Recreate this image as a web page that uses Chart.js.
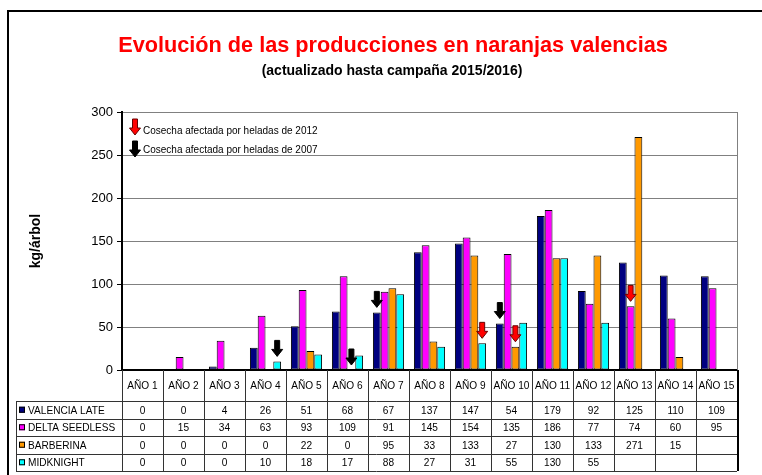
<!DOCTYPE html>
<html>
<head>
<meta charset="utf-8">
<script src="https://cdn.jsdelivr.net/npm/chart.js@4"></script>
<style>
  html, body { margin: 0; padding: 0; background: #fff; }
  #wrap { width: 762px; height: 475px; position: relative; }
</style>
</head>
<body>
<div id="wrap"><canvas id="chart" width="762" height="475"></canvas></div>
<script>
// datos
const categories = ['AÑO 1', 'AÑO 2', 'AÑO 3', 'AÑO 4', 'AÑO 5', 'AÑO 6', 'AÑO 7', 'AÑO 8',
  'AÑO 9', 'AÑO 10', 'AÑO 11', 'AÑO 12', 'AÑO 13', 'AÑO 14', 'AÑO 15'];
const valenciaLate = [0, 0, 4, 26, 51, 68, 67, 137, 147, 54, 179, 92, 125, 110, 109];
const deltaSeedless = [0, 15, 34, 63, 93, 109, 91, 145, 154, 135, 186, 77, 74, 60, 95];
const barberina = [0, 0, 0, 0, 22, 0, 95, 33, 133, 27, 130, 133, 271, 15, null];
const midknight = [0, 0, 0, 10, 18, 17, 88, 27, 31, 55, 130, 55, null, null, null];
const seriesNames = ['VALENCIA LATE', 'DELTA SEEDLESS', 'BARBERINA', 'MIDKNIGHT'];
const seriesColors = ['#000080', '#FF00FF', '#FF9900', '#00FFFF'];
const yTicks = [0, 50, 100, 150, 200, 250, 300];
// flechas de heladas: categoria, serie, año
const frostCats = [3, 5, 6, 8, 9, 9, 12];
const frostSeries = [3, 2, 0, 3, 0, 2, 1];
const frostYears = [2007, 2007, 2007, 2012, 2007, 2012, 2012];

const FONT = '"Liberation Sans", Arial, sans-serif';
const allSeries = [valenciaLate, deltaSeedless, barberina, midknight];

function drawArrow(ctx, x, tipY, color) {
  // flecha hacia abajo, 16px de alto
  const h = 16, shaftW = 5, headW = 11, headH = 7;
  ctx.save();
  ctx.beginPath();
  ctx.moveTo(x - shaftW / 2, tipY - h);
  ctx.lineTo(x + shaftW / 2, tipY - h);
  ctx.lineTo(x + shaftW / 2, tipY - headH);
  ctx.lineTo(x + headW / 2, tipY - headH);
  ctx.lineTo(x, tipY);
  ctx.lineTo(x - headW / 2, tipY - headH);
  ctx.lineTo(x - shaftW / 2, tipY - headH);
  ctx.closePath();
  ctx.fillStyle = color;
  ctx.fill();
  ctx.lineWidth = 1;
  ctx.strokeStyle = color === '#000' ? '#000' : '#600';
  ctx.stroke();
  ctx.restore();
}

// texto algo estrecho, como en la tabla original
function narrowText(ctx, text, x, y, align) {
  const sx = 0.92;
  ctx.save();
  ctx.translate(x, y);
  ctx.scale(sx, 1);
  ctx.textAlign = align;
  ctx.fillText(text, 0, 0);
  ctx.restore();
}

const extras = {
  id: 'extras',
  afterDraw(chart) {
    const ctx = chart.ctx;
    const area = chart.chartArea;
    const x = chart.scales.x;
    const n = categories.length;
    const colW = (area.right - area.left) / n;

    ctx.save();
    // marco exterior
    ctx.strokeStyle = '#000';
    ctx.lineWidth = 2;
    ctx.beginPath();
    ctx.moveTo(8, 475);
    ctx.lineTo(8, 11);
    ctx.lineTo(762, 11);
    ctx.stroke();

    // titulos
    ctx.textAlign = 'center';
    ctx.textBaseline = 'alphabetic';
    ctx.fillStyle = '#FF0000';
    ctx.font = 'bold 21.7px ' + FONT;
    ctx.fillText('Evolución de las producciones en naranjas valencias', 393, 52);
    ctx.fillStyle = '#000';
    ctx.font = 'bold 14px ' + FONT;
    ctx.fillText('(actualizado hasta campaña 2015/2016)', 392, 75);

    // titulo eje y
    ctx.save();
    ctx.translate(36, 241);
    ctx.rotate(-Math.PI / 2);
    ctx.font = 'bold 14px ' + FONT;
    ctx.textBaseline = 'middle';
    ctx.fillText('kg/árbol', 0, 0);
    ctx.restore();

    // borde derecho del area
    ctx.strokeStyle = '#808080';
    ctx.lineWidth = 1;
    ctx.beginPath();
    ctx.moveTo(area.right + 0.5, area.top);
    ctx.lineTo(area.right + 0.5, area.bottom);
    ctx.stroke();

    // flechas
    for (let i = 0; i < frostCats.length; i++) {
      const bar = chart.getDatasetMeta(frostSeries[i]).data[frostCats[i]];
      drawArrow(ctx, bar.x, bar.y - 5, frostYears[i] === 2012 ? '#FF0000' : '#000');
    }
    // leyenda de flechas
    drawArrow(ctx, 135, 135, '#FF0000');
    drawArrow(ctx, 135, 157, '#000');
    ctx.fillStyle = '#000';
    ctx.font = '10px ' + FONT;
    ctx.textAlign = 'left';
    ctx.fillText('Cosecha afectada por heladas de 2012', 143, 134);
    ctx.fillText('Cosecha afectada por heladas de 2007', 143, 153);

    // tabla de datos
    const headTop = area.bottom, headBottom = 401, rowH = 17.5;
    const tableLeft = 16;
    const tableBottom = headBottom + rowH * allSeries.length;
    ctx.strokeStyle = '#333';
    ctx.lineWidth = 1;
    ctx.beginPath();
    for (let i = 0; i <= n; i++) {
      const bx = Math.round(area.left + i * colW) + 0.5;
      ctx.moveTo(bx, headTop);
      ctx.lineTo(bx, tableBottom);
    }
    ctx.moveTo(tableLeft + 0.5, headBottom);
    ctx.lineTo(tableLeft + 0.5, tableBottom);
    for (let r = 0; r <= allSeries.length; r++) {
      const yy = Math.round(headBottom + r * rowH) + 0.5;
      ctx.moveTo(tableLeft, yy);
      ctx.lineTo(area.right, yy);
    }
    ctx.stroke();
    ctx.strokeStyle = '#000';
    ctx.lineWidth = 2;
    ctx.beginPath();
    ctx.moveTo(area.right + 1, headTop);
    ctx.lineTo(area.right + 1, tableBottom);
    ctx.stroke();

    ctx.font = '11px ' + FONT;
    ctx.textBaseline = 'middle';
    ctx.fillStyle = '#000';
    for (let i = 0; i < n; i++) {
      narrowText(ctx, categories[i], x.getPixelForValue(i), (headTop + headBottom) / 2, 'center');
    }
    for (let r = 0; r < allSeries.length; r++) {
      const cy = headBottom + r * rowH + rowH / 2;
      ctx.fillStyle = seriesColors[r];
      ctx.fillRect(19, cy - 3, 6, 6);
      ctx.strokeStyle = '#000';
      ctx.lineWidth = 1;
      ctx.strokeRect(19.5, cy - 2.5, 5, 5);
      ctx.fillStyle = '#000';
      narrowText(ctx, seriesNames[r], 28, cy + 1, 'left');
      for (let i = 0; i < n; i++) {
        const v = allSeries[r][i];
        if (v !== null) narrowText(ctx, String(v), x.getPixelForValue(i), cy + 1, 'center');
      }
    }
    ctx.restore();
  }
};

new Chart(document.getElementById('chart'), {
  type: 'bar',
  data: {
    labels: categories,
    datasets: allSeries.map((vals, i) => ({
      label: seriesNames[i],
      data: vals,
      backgroundColor: seriesColors[i],
      borderColor: '#000',
      borderWidth: 1,
      borderSkipped: false,
      categoryPercentage: 0.76,
      barPercentage: 1
    }))
  },
  options: {
    responsive: false,
    animation: false,
    layout: { padding: { top: 112, right: 25, bottom: 105, left: 0 } },
    plugins: { legend: { display: false }, tooltip: { enabled: false } },
    scales: {
      x: {
        ticks: { display: false },
        grid: { display: false, drawTicks: false },
        border: { display: true, color: '#000', width: 2 },
        afterFit(scale) { scale.height = 0; }
      },
      y: {
        min: 0,
        max: 300,
        afterBuildTicks(scale) { scale.ticks = yTicks.map(v => ({ value: v })); },
        ticks: { color: '#000', font: { family: FONT, size: 13 }, padding: 4 },
        grid: { color: '#808080', tickColor: '#000', tickLength: 5 },
        border: { color: '#000', width: 2 },
        afterFit(scale) { scale.width = 122; }
      }
    }
  },
  plugins: [extras]
});
</script>
</body>
</html>
